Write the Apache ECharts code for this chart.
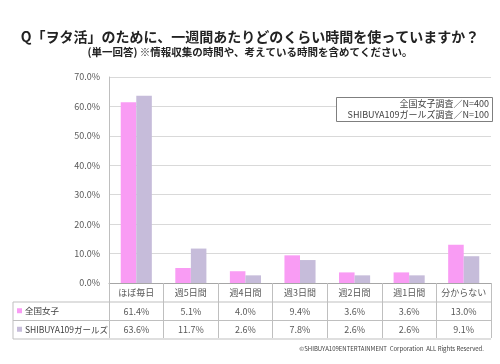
<!DOCTYPE html>
<html><head><meta charset="utf-8">
<script src="https://cdn.jsdelivr.net/npm/echarts@6/dist/echarts.min.js"></script>
<style>html,body{margin:0;padding:0;background:#fff}#c{width:500px;height:364px}</style>
</head><body><div id="c"></div>
<script>
var titleText = 'Q「ヲタ活」のために、一週間あたりどのくらい時間を使っていますか？';
var subtitleText = '(単一回答) ※情報収集の時間や、考えている時間を含めてください。';
var categories = ['ほぼ毎日','週5日間','週4日間','週3日間','週2日間','週1日間','分からない'];
var seriesNames = ['全国女子','SHIBUYA109ガールズ'];
var national = [61.4, 5.1, 4.0, 9.4, 3.6, 3.6, 13.0];
var shibuya = [63.6, 11.7, 2.6, 7.8, 2.6, 2.6, 9.1];
var legendNotes = ['全国女子調査／N=400', 'SHIBUYA109ガールズ調査／N=100'];
var copyrightText = '©SHIBUYA109ENTERTAINMENT  Corporation  ALL Rights Reserved.';

var colors = ['#F99CF4', '#C6BCDA'];
var font = '"Noto Sans CJK JP", "Noto Sans", sans-serif';
var chart = echarts.init(document.getElementById('c'), null, {renderer:'canvas'});
var G = {left:109, right:9, top:77, bottom:81};
chart.setOption({
  animation:false,
  textStyle:{fontFamily:font},
  title:[
    {text:titleText, left:'center', top:25, textStyle:{fontSize:14, fontWeight:'bold', color:'#222', fontFamily:font}},
    {text:subtitleText, left:'center', top:42, textStyle:{fontSize:10.5, fontWeight:'bold', color:'#222', fontFamily:font}}
  ],
  grid:G,
  xAxis:{type:'category', data:categories,
    axisLine:{show:true, lineStyle:{color:'#a6a6a6'}},
    axisTick:{show:true, length:55, interval:0, lineStyle:{color:'#bfbfbf'}},
    axisLabel:{interval:0, fontSize:9, color:'#595959', margin:5}},
  yAxis:{type:'value', min:0, max:70, interval:10,
    axisLine:{show:true, lineStyle:{color:'#bfbfbf'}},
    axisTick:{show:false},
    axisLabel:{fontSize:9, color:'#595959', margin:9, formatter:function(v){return v.toFixed(1)+'%';}},
    splitLine:{lineStyle:{color:'#d9d9d9'}}},
  series:[
    {name:seriesNames[0], type:'bar', data:national, itemStyle:{color:colors[0]}, barGap:'0%', barCategoryGap:'43%'},
    {name:seriesNames[1], type:'bar', data:shibuya, itemStyle:{color:colors[1]}, barGap:'0%', barCategoryGap:'43%'}
  ]
});

var W = 500, H = 364;
var x0 = G.left, x1 = W - G.right, yBase = H - G.bottom;
var rowH = 18.5;
var tableLeft = 13;
var r1 = yBase + 19, r2 = r1 + rowH, r3 = r2 + rowH;
var lc = '#bfbfbf';
var g = [];
function hline(xa, xb, y){ g.push({type:'line', shape:{x1:xa,y1:y,x2:xb,y2:y}, style:{stroke:lc, lineWidth:1}, silent:true}); }
function vline(x, ya, yb){ g.push({type:'line', shape:{x1:x,y1:ya,x2:x,y2:yb}, style:{stroke:lc, lineWidth:1}, silent:true}); }
hline(tableLeft, x1, r1); hline(tableLeft, x1, r2); hline(tableLeft, x1, r3);
vline(tableLeft, r1, r3);
var rows = [national, shibuya];
rows.forEach(function(arr, ri){
  var yc = r1 + rowH*ri + rowH/2;
  g.push({type:'rect', shape:{x:17, y:yc-3, width:5, height:5}, style:{fill:colors[ri]}, silent:true});
  g.push({type:'text', x:25, y:yc, style:{text:seriesNames[ri], font:'8.5px '+font, fill:'#404040', verticalAlign:'middle'}, silent:true});
  arr.forEach(function(v, ci){
    var cx = chart.convertToPixel({xAxisIndex:0}, categories[ci]);
    g.push({type:'text', x:cx, y:yc, style:{text:v.toFixed(1)+'%', font:'9px '+font, fill:'#595959', align:'center', verticalAlign:'middle'}, silent:true});
  });
});
// legend note box
g.push({type:'rect', shape:{x:336.5, y:97.5, width:156, height:24}, style:{fill:'#fff', stroke:'#7f7f7f', lineWidth:1}, silent:true});
legendNotes.forEach(function(t, i){
  g.push({type:'text', x:489, y:104 + i*11, style:{text:t, font:'9px '+font, fill:'#404040', align:'right', verticalAlign:'middle'}, silent:true});
});
g.push({type:'text', x:484, y:349, style:{text:copyrightText, font:'6px '+font, fill:'#404040', align:'right', verticalAlign:'middle'}, silent:true});
chart.setOption({graphic:{elements:g}});
</script></body></html>
